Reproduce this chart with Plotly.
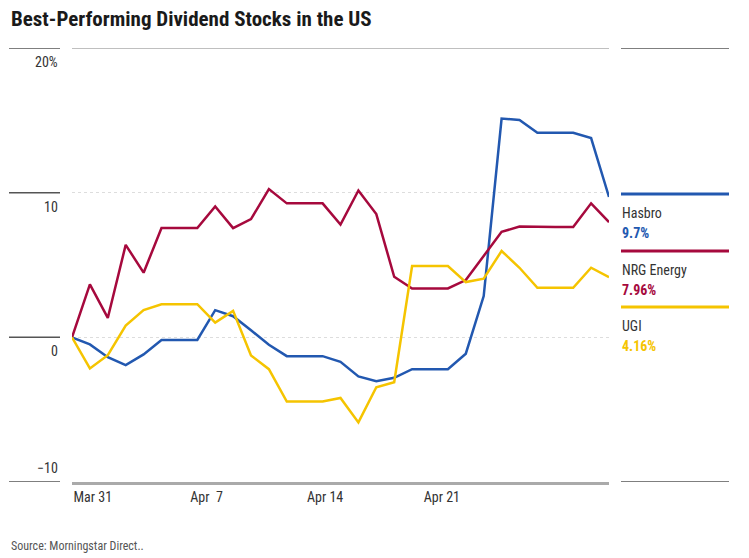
import pandas as pd
import plotly.graph_objects as go

# ---------------- data ----------------
dates = pd.date_range("2024-03-31", "2024-04-30", freq="D")
hasbro = [0, -0.49, -1.37, -1.92, -1.18, -0.18, -0.18, -0.18, 1.88, 1.46, 0.49,
          -0.51, -1.30, -1.30, -1.30, -1.69, -2.70, -3.03, -2.80, -2.20, -2.20,
          -2.20, -1.13, 2.85, 15.12, 15.02, 14.14, 14.14, 14.14, 13.77, 9.70]
nrg = [0, 3.66, 1.34, 6.39, 4.47, 7.55, 7.55, 7.55, 9.05, 7.55, 8.17,
       10.25, 9.26, 9.26, 9.26, 7.80, 10.15, 8.52, 4.19, 3.38, 3.38,
       3.38, 3.96, 5.63, 7.29, 7.66, 7.62, 7.62, 7.62, 9.26, 7.96]
ugi = [0, -2.15, -1.23, 0.81, 1.88, 2.29, 2.29, 2.29, 1.02, 1.83, -1.25,
       -2.20, -4.44, -4.44, -4.44, -4.19, -5.88, -3.45, -3.10, 4.93, 4.93,
       4.93, 3.82, 4.05, 5.97, 4.81, 3.43, 3.43, 3.43, 4.81, 4.16]
series_names = ["Hasbro", "NRG Energy", "UGI"]
series_values = [hasbro, nrg, ugi]
end_labels = ["9.7%", "7.96%", "4.16%"]
colors = ["#2258b0", "#a6093d", "#f5c400"]

x_tick_dates = ["2024-03-31", "2024-04-07", "2024-04-14", "2024-04-21"]
x_tick_text = ["Mar 31", "Apr\u00a0\u00a07", "Apr 14", "Apr 21"]
y_tick_vals = [20, 10, 0, -10]
y_tick_text = ["20%", "10", "0", "\u221210"]

# ---------------- layout geometry ----------------
OFF = 8  # page body margin
W, H = 749 - OFF, 558 - OFF
L, R, T, B = 72 - OFF, 609 - OFF, 48 - OFF, 482 - OFF
PW, PH = R - L, B - T
FONT = "Liberation Sans Narrow, Roboto Condensed, Arial Narrow, Roboto, sans-serif"


def px_x(px):
    return (px - OFF - L) / PW


def px_y(py):
    return (B - (py - OFF)) / PH


# axis label scale used by the reference (labels spaced ~6.5 days apart)
start = dates[0]
span = (dates[-1] - start)
label_span = pd.Timedelta(days=32.2)
tick_pos = [start + (pd.Timestamp(d) - start) * (span / label_span) for d in x_tick_dates]

fig = go.Figure()
for name, vals, col in zip(series_names, series_values, colors):
    fig.add_trace(go.Scatter(x=dates, y=vals, name=name, mode="lines",
                             line=dict(color=col, width=2.5), showlegend=False))

shapes = []
annotations = []

# left short lines + tick labels
for v, t in zip(y_tick_vals, y_tick_text):
    is_bottom = v == min(y_tick_vals)
    shapes.append(dict(type="line", xref="paper", yref="y", x0=px_x(9), x1=px_x(60),
                       y0=v, y1=v, line=dict(color="#555555", width=1.5)))
    annotations.append(dict(xref="paper", yref="y", x=px_x(60), y=v, text=t,
                            showarrow=False, xanchor="right",
                            yanchor="bottom" if is_bottom else "top",
                            yshift=4 if is_bottom else -4,
                            font=dict(family=FONT, size=14, color="#333333")))

# top line at 20 across plot
shapes.append(dict(type="line", xref="paper", yref="y", x0=0, x1=1, y0=20, y1=20,
                   line=dict(color="#aaaaaa", width=1.5)))
# right dark lines at top and bottom
for v in (20, -10):
    shapes.append(dict(type="line", xref="paper", yref="y", x0=px_x(621), x1=px_x(729),
                       y0=v, y1=v, line=dict(color="#555555", width=1.5)))

# right-side labels
line_py = [194, 251, 307]
for name, lab, col, py in zip(series_names, end_labels, colors, line_py):
    shapes.append(dict(type="line", xref="paper", yref="paper", x0=px_x(621), x1=px_x(729),
                       y0=px_y(py), y1=px_y(py), line=dict(color=col, width=3)))
    annotations.append(dict(xref="paper", yref="paper", x=px_x(620), y=px_y(py + 19),
                            text=name, showarrow=False, xanchor="left", yanchor="middle",
                            font=dict(family=FONT, size=14, color="#333333")))
    annotations.append(dict(xref="paper", yref="paper", x=px_x(620), y=px_y(py + 39),
                            text="<b>" + lab + "</b>", showarrow=False, xanchor="left",
                            yanchor="middle", font=dict(family=FONT, size=14, color=col)))

# title and source
annotations.append(dict(xref="paper", yref="paper", x=px_x(9), y=px_y(19),
                        text="<b>Best-Performing Dividend Stocks in the US</b>",
                        showarrow=False, xanchor="left", yanchor="middle",
                        font=dict(family=FONT, size=21, color="#1a1a1a")))
annotations.append(dict(xref="paper", yref="paper", x=px_x(9), y=px_y(546),
                        text="Source: Morningstar Direct..",
                        showarrow=False, xanchor="left", yanchor="middle",
                        font=dict(family=FONT, size=12, color="#555555")))

fig.update_layout(
    width=W, height=H,
    margin=dict(l=L, r=W - R, t=T, b=H - B),
    paper_bgcolor="white", plot_bgcolor="white",
    shapes=shapes, annotations=annotations,
    xaxis=dict(type="date", range=[dates[0], dates[-1]],
               tickvals=tick_pos, ticktext=x_tick_text,
               ticklabelposition="outside right", ticks="",
               tickfont=dict(family=FONT, size=14, color="#333333"),
               showgrid=False, zeroline=False,
               showline=True, linecolor="#aaaaaa", linewidth=3),
    yaxis=dict(range=[-10, 20], tickvals=[0, 10], showticklabels=False,
               showgrid=True, gridcolor="#dddddd", griddash="dot", gridwidth=1,
               zeroline=False, showline=False, ticks=""),
    font=dict(family=FONT),
)

fig.write_html("out.html")
